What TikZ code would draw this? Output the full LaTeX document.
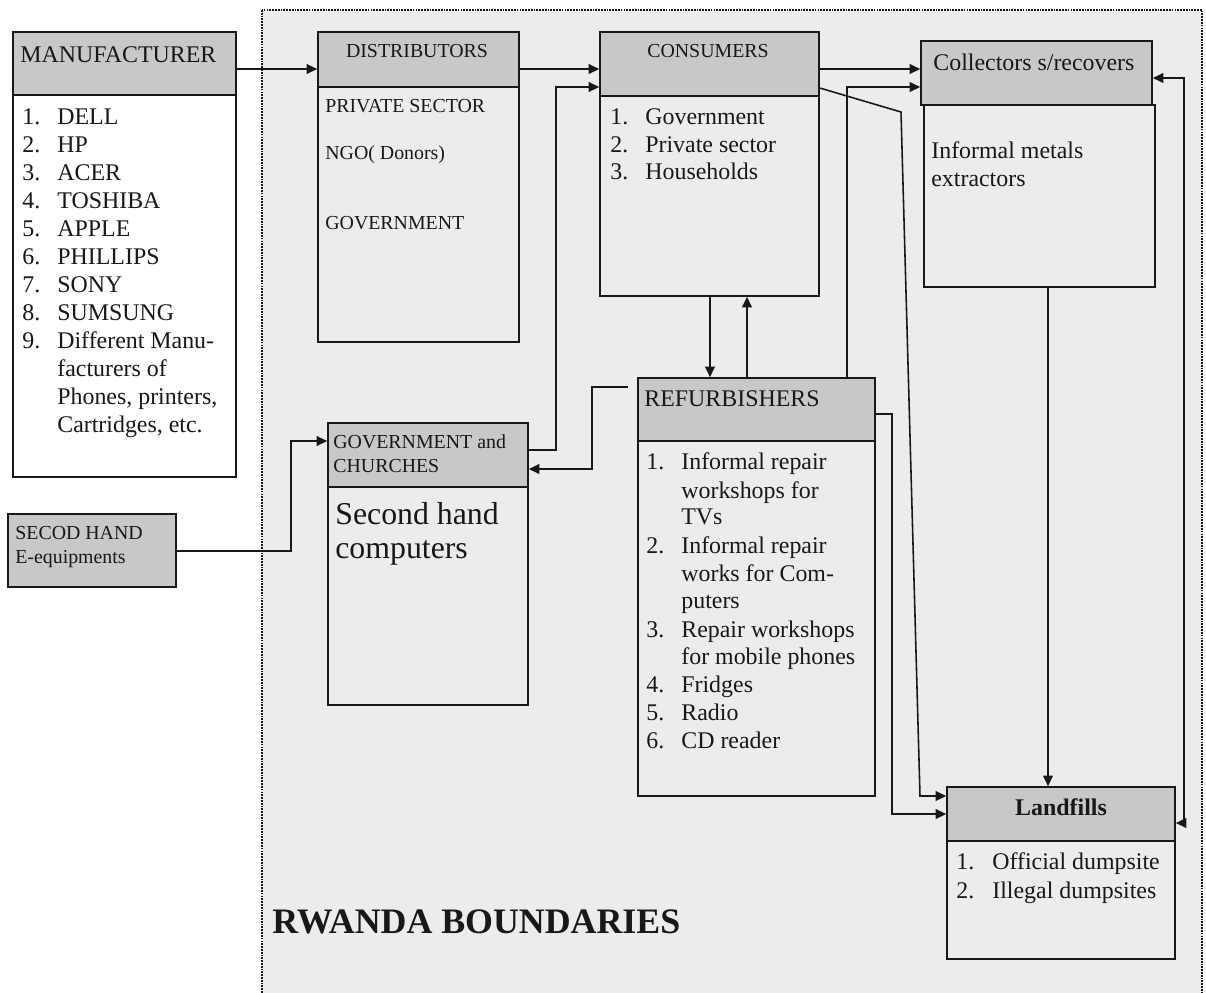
\documentclass[tikz,border=0pt]{standalone}
\usepackage{fontspec}
\setmainfont{Liberation Serif}
\usetikzlibrary{arrows.meta,fit}
\definecolor{hdr}{RGB}{200,200,200}
\definecolor{bg}{RGB}{236,236,236}
\definecolor{ink}{RGB}{24,24,24}
\begin{document}
\begin{tikzpicture}[x=0.02cm,y=-0.02cm,
  box/.style={draw=ink, line width=0.9pt, inner sep=0pt},
  hbox/.style={box, fill=hdr},
  bbox/.style={box, fill=bg},
  wbox/.style={box, fill=white},
  tx/.style={anchor=base west, inner sep=0pt, text=ink, font=\fontsize{13.6}{16}\selectfont},
  ts/.style={tx, font=\fontsize{11.3}{13.6}\selectfont},
  tbig/.style={tx, font=\fontsize{18.1}{21}\selectfont},
  arr/.style={draw=ink, line width=0.9pt, -{Triangle[length=6pt,width=5.5pt]}},
  darr/.style={draw=ink, line width=0.9pt, {Triangle[length=6pt,width=5.5pt]}-{Triangle[length=6pt,width=5.5pt]}},
]
\useasboundingbox (0,0) rectangle (1206,992);
\fill[white] (0,0) rectangle (1206,992);
% Rwanda boundary
\draw[draw=ink, line width=1.6pt, dash pattern=on 1pt off 0.6pt, fill=bg] (262,10) rectangle (1202,1010);

% ---------- boxes ----------
\node[hbox, fit={(13,32) (236,95)}] (manH) {};
\node[wbox, fit={(13,95) (236,477)}] (manB) {};

\node[hbox, fit={(318,32) (519,87)}] (disH) {};
\node[bbox, fit={(318,87) (519,342)}] (disB) {};

\node[hbox, fit={(600,32) (819,96)}] (conH) {};
\node[bbox, fit={(600,96) (819,296)}] (conB) {};

\node[hbox, fit={(921,41) (1152,105)}] (colH) {};
\node[bbox, fit={(924,105) (1155,287)}] (colB) {};

\node[hbox, fit={(638,378) (875,441)}] (refH) {};
\node[bbox, fit={(638,441) (875,796)}] (refB) {};

\node[hbox, fit={(328,423) (528,487)}] (govH) {};
\node[bbox, fit={(328,487) (528,705)}] (govB) {};

\node[hbox, fit={(8,514) (176,587)}] (sh) {};

\node[hbox, fit={(947,787) (1175,841)}] (lanH) {};
\node[bbox, fit={(947,841) (1175,959)}] (lanB) {};

% ---------- texts ----------
\node[tx] (manT) at (20,62) {MANUFACTURER};
\foreach \n/\t/\y in {1/DELL/124, 2/HP/152, 3/ACER/180, 4/TOSHIBA/208, 5/APPLE/236, 6/PHILLIPS/264, 7/SONY/292, 8/SUMSUNG/320, 9/Different Manu-/348}{
  \node[tx] (mn\n) at (22,\y) {\n.};
  \node[tx] (mt\n) at (57,\y) {\t};
}
\node[tx] (mt10) at (57,376) {facturers of};
\node[tx] (mt11) at (57,404) {Phones, printers,};
\node[tx] (mt12) at (57,432) {Cartridges, etc.};

\node[ts, anchor=base] (disT) at (417,57) {DISTRIBUTORS};
\node[ts] (dis1) at (325,112) {PRIVATE SECTOR};
\node[ts] (dis2) at (325,159) {NGO( Donors)};
\node[ts] (dis3) at (325,229) {GOVERNMENT};

\node[ts, anchor=base] (conT) at (708,57) {CONSUMERS};
\node[tx] (cn1) at (610,124) {1.};
\node[tx] (ct1) at (645,124) {Government};
\node[tx] (cn2) at (610,152) {2.};
\node[tx] (ct2) at (645,152) {Private sector};
\node[tx] (cn3) at (610,179) {3.};
\node[tx] (ct3) at (645,179) {Households};

\node[tx] (colT) at (933,70) {Collectors s/recovers};
\node[tx] (col1) at (931,158) {Informal metals};
\node[tx] (col2) at (931,186) {extractors};

\node[tx] (refT) at (644,406) {REFURBISHERS};
\node[tx] (rn1) at (646,469) {1.};
\node[tx] (rt1) at (681,469) {Informal repair};
\node[tx] (rt1b) at (681,498) {workshops for};
\node[tx] (rt1c) at (681,524) {TVs};
\node[tx] (rn2) at (646,553) {2.};
\node[tx] (rt2) at (681,553) {Informal repair};
\node[tx] (rt2b) at (681,581) {works for Com-};
\node[tx] (rt2c) at (681,608) {puters};
\node[tx] (rn3) at (646,637) {3.};
\node[tx] (rt3) at (681,637) {Repair workshops};
\node[tx] (rt3b) at (681,664) {for mobile phones};
\node[tx] (rn4) at (646,692) {4.};
\node[tx] (rt4) at (681,692) {Fridges};
\node[tx] (rn5) at (646,720) {5.};
\node[tx] (rt5) at (681,720) {Radio};
\node[tx] (rn6) at (646,748) {6.};
\node[tx] (rt6) at (681,748) {CD reader};

\node[ts] (govT1) at (333,448) {GOVERNMENT and};
\node[ts] (govT2) at (333,472) {CHURCHES};
\node[tbig] (gov1) at (335,524) {Second hand};
\node[tbig] (gov2) at (335,558) {computers};

\node[ts] (shT1) at (15,539) {SECOD HAND};
\node[ts] (shT2) at (15,563) {E-equipments};

\node[tx, anchor=base, font=\fontsize{13.6}{16}\selectfont\bfseries] (lanT) at (1061,815) {Landfills};
\node[tx] (ln1) at (956,869) {1.};
\node[tx] (lt1) at (992,869) {Official dumpsite};
\node[tx] (ln2) at (956,898) {2.};
\node[tx] (lt2) at (992,898) {Illegal dumpsites};

\node[tx, font=\fontsize{20.4}{24}\selectfont\bfseries] (rwanda) at (272,933) {RWANDA BOUNDARIES};

% ---------- connector coordinates ----------
\coordinate (y69) at (0,69);
\coordinate (c1) at (556,450);
\coordinate (c2) at (556,87);
\coordinate (r0) at (628,387);
\coordinate (r1) at (592,387);
\coordinate (r2) at (592,469);
\coordinate (s1) at (291,551);
\coordinate (s2) at (291,441);
\coordinate (k1) at (847,87);
\coordinate (x710) at (710,0);
\coordinate (x747) at (747,0);
\coordinate (x847) at (847,0);
\coordinate (x1048) at (1048,0);
\coordinate (d0) at (0,88);
\coordinate (d1) at (901,112);
\coordinate (d2) at (920,796);
\coordinate (e0) at (0,414);
\coordinate (e1) at (892,414);
\coordinate (e2) at (892,814);
\coordinate (f0) at (0,78);
\coordinate (f1) at (1184,78);
\coordinate (f2) at (1184,823);

% ---------- connectors ----------
\draw[arr] (manH.east |- y69) -- (disH.west |- y69);
\draw[arr] (disH.east |- y69) -- (conH.west |- y69);
\draw[arr] (conH.east |- y69) -- (colH.west |- y69);
\draw[arr] (govH.east |- c1) -- (c1) -- (c2) -- (conH.west |- c2);
\draw[arr] (r0) -- (r1) -- (r2) -- (govH.east |- r2);
\draw[arr] (sh.east |- s1) -- (s1) -- (s2) -- (govH.west |- s2);
\draw[arr] (refH.north -| x847) -- (k1) -- (colH.west |- k1);
\draw[arr] (conB.south -| x710) -- (refH.north -| x710);
\draw[arr] (refH.north -| x747) -- (conB.south -| x747);
\draw[arr] (conH.east |- d0) -- (d1) -- (d2) -- (lanH.west |- d2);
\draw[arr] (refH.east |- e0) -- (e1) -- (e2) -- (lanH.west |- e2);
\draw[arr] (colB.south -| x1048) -- (lanH.north -| x1048);
\draw[darr] (colH.east |- f0) -- (f1) -- (f2) -- (lanH.east |- f2);
\end{tikzpicture}
\end{document}
